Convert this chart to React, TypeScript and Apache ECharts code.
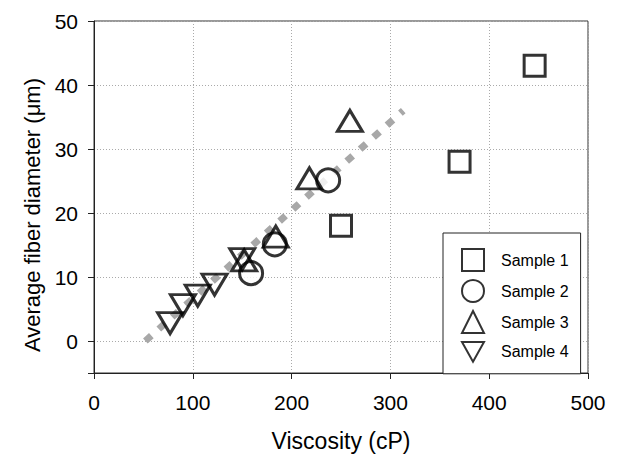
import React, { useEffect, useRef } from "react";
import * as echarts from "echarts";

const sample1: number[][] = [[250, 18], [370, 28], [446, 43]];
const sample2: number[][] = [[159, 10.6], [183, 15.1], [237, 25.1]];
const sample3: number[][] = [[152, 12.6], [184, 16.3], [218, 25.4], [259, 34.4]];
const sample4: number[][] = [[77, 2.8], [90, 5.6], [105, 7.1], [122, 8.8], [150, 12.8]];
const trend: number[][] = [[52, 0], [313, 36]];
const seriesNames = ["Sample 1", "Sample 2", "Sample 3", "Sample 4"];

const FONT = "Liberation Sans, Arial, sans-serif";
const DOWN_TRIANGLE = "path://M0,0 L20,0 L10,18 Z";

export default function App() {
  const ref = useRef<HTMLDivElement>(null);
  useEffect(() => {
    if (!ref.current) return;
    const chart = echarts.init(ref.current, null, { renderer: "svg" });
    const marker = {
      color: "#ffffff",
      borderColor: "#000000",
      borderWidth: 3,
    };
    chart.setOption({
      animation: false,
      backgroundColor: "#ffffff",
      grid: {
        left: 94,
        right: 31,
        top: 21,
        bottom: 79,
        show: true,
        borderColor: "#333",
        borderWidth: 1,
        backgroundColor: "transparent",
      },
      legend: {
        data: [
          { name: seriesNames[0] },
          { name: seriesNames[1] },
          { name: seriesNames[2] },
          { name: seriesNames[3], icon: DOWN_TRIANGLE },
        ],
        orient: "vertical",
        left: 443,
        top: 233,
        itemWidth: 22,
        itemHeight: 22,
        itemGap: 7,
        padding: [15, 12, 11, 18],
        borderColor: "#222",
        borderWidth: 1,
        backgroundColor: "#fff",
        textStyle: {
          fontFamily: FONT,
          fontSize: 16,
          color: "#000",
          padding: [0, 0, 0, 12],
        },
      },
      xAxis: {
        type: "value",
        min: 0,
        max: 500,
        interval: 100,
        name: "Viscosity (cP)",
        nameLocation: "middle",
        nameGap: 56,
        nameTextStyle: { fontFamily: FONT, fontSize: 23, color: "#000" },
        axisLine: { show: true, onZero: false, lineStyle: { color: "#222", width: 1 } },
        axisTick: { show: true, inside: false, length: 6, lineStyle: { color: "#222" } },
        axisLabel: { fontFamily: FONT, fontSize: 21, color: "#000", margin: 19 },
        splitLine: { show: true, lineStyle: { color: "#aaa", type: [1, 2], width: 1 } },
      },
      yAxis: {
        type: "value",
        min: -5,
        max: 50,
        splitNumber: 5,
        name: "Average fiber diameter (\u03bcm)",
        nameLocation: "middle",
        nameGap: 50,
        nameTextStyle: { fontFamily: FONT, fontSize: 22, color: "#000", padding: [0, 36, 0, 0] },
        axisLine: { show: true, onZero: false, lineStyle: { color: "#222", width: 1 } },
        axisTick: { show: true, inside: false, length: 6, lineStyle: { color: "#222" } },
        axisLabel: {
          fontFamily: FONT,
          fontSize: 21,
          color: "#000",
          margin: 16,
          formatter: (v: number) => (v < 0 ? "" : String(v)),
        },
        splitLine: { show: true, lineStyle: { color: "#aaa", type: [1, 2], width: 1 } },
      },
      series: [
        {
          type: "line",
          name: "trend",
          data: trend,
          symbol: "none",
          silent: true,
          lineStyle: { color: "#a8a8a8", width: 7, type: [8, 10] },
          z: 1,
        },
        {
          type: "scatter",
          name: "Sample 1",
          data: sample1,
          symbol: "rect",
          symbolSize: 21,
          itemStyle: marker,
          z: 3,
        },
        {
          type: "scatter",
          name: "Sample 2",
          data: sample2,
          symbol: "circle",
          symbolSize: 23,
          itemStyle: marker,
          z: 3,
        },
        {
          type: "scatter",
          name: "Sample 3",
          data: sample3,
          symbol: "triangle",
          symbolSize: [25, 21],
          itemStyle: { ...marker, color: "transparent" },
          z: 3,
        },
        {
          type: "scatter",
          name: "Sample 4",
          data: sample4,
          symbol: "triangle",
          symbolRotate: 180,
          symbolSize: [25, 21],
          itemStyle: { ...marker, color: "transparent" },
          z: 3,
        },
      ],
    });
    return () => chart.dispose();
  }, []);
  return <div ref={ref} style={{ width: 619, height: 457, position: "absolute", left: 0, top: 0 }} />;
}
